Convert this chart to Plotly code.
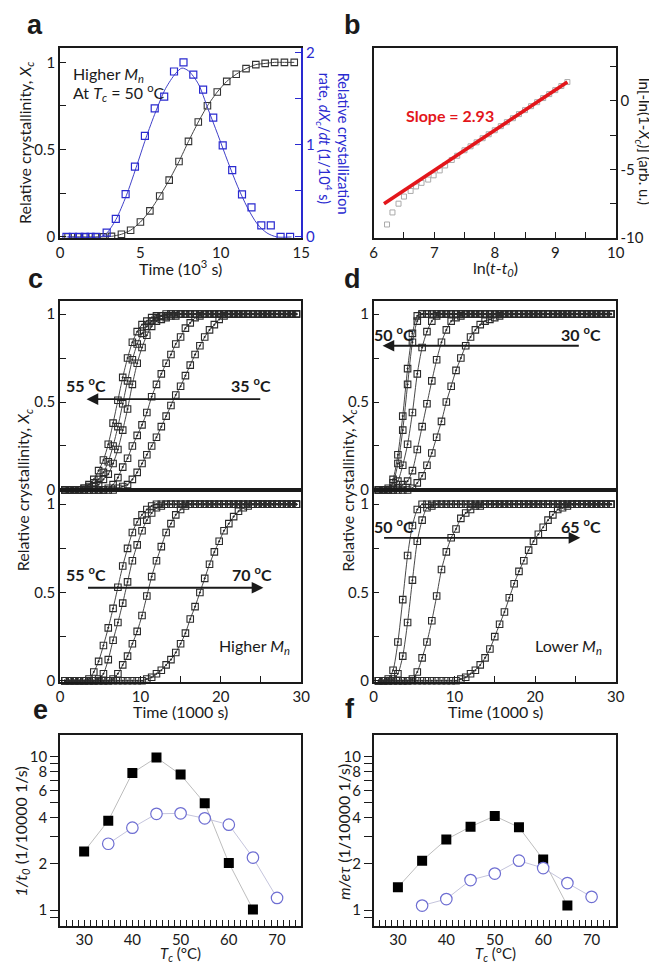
import plotly.graph_objects as go

W, H = 657, 964
FONT = "Lato, 'Open Sans', sans-serif"
INK = "#1a1a1a"
BLUE = "#2a2ad0"

# ---------------- panel a : Xc and dXc/dt vs time (10^3 s) ----------------
A_T_XC = [0.5, 1.1, 1.6, 2.2, 2.7, 3.2, 3.82, 4.39, 5.0, 5.59, 6.2, 6.79, 7.4, 7.99, 8.6,
          9.17, 9.78, 10.37, 10.96, 11.57, 12.18, 12.76, 13.35, 13.96, 14.57]
A_XC = [0, 0, 0, 0, 0, 0.003, 0.015, 0.038, 0.085, 0.149, 0.234, 0.325, 0.432, 0.547, 0.658,
        0.751, 0.83, 0.891, 0.932, 0.964, 0.987, 0.994, 1.0, 1.0, 1.0]
A_T_RATE = [0.4, 0.8, 1.2, 1.55, 1.9, 2.25, 2.9, 3.47, 4.08, 4.66, 5.28, 5.89, 6.48, 7.09, 7.68,
            8.29, 8.9, 9.53, 10.12, 10.71, 11.32, 11.91, 12.52, 13.11, 13.72, 14.31]
A_RATE = [0, 0, 0, 0, 0, 0, 0.046, 0.196, 0.464, 0.761, 1.096, 1.393, 1.521, 1.793, 1.893,
          1.76, 1.596, 1.293, 0.993, 0.725, 0.461, 0.321, 0.125, 0.125, 0, 0]
A_FIT_T = [0.4, 2.5, 2.9, 3.47, 4.12, 4.73, 5.34, 5.95, 6.56, 7.17, 7.58, 7.99, 8.6, 9.2, 9.82,
           10.43, 11.04, 11.65, 12.26, 12.87, 13.48, 14.4]
A_FIT_RATE = [0, 0, 0.04, 0.186, 0.446, 0.75, 1.07, 1.357, 1.607, 1.768, 1.83, 1.8, 1.66, 1.39,
              1.107, 0.82, 0.55, 0.32, 0.143, 0.043, 0, 0]

# ---------------- panel b : Avrami plot ----------------
B_LNT = [6.22, 6.31, 6.41, 6.5, 6.61, 6.7, 6.79, 6.9, 6.99, 7.09, 7.18, 7.29, 7.38, 7.5, 7.6,
         7.7, 7.8, 7.9, 8.0, 8.1, 8.2, 8.3, 8.4, 8.5, 8.6, 8.7, 8.8, 8.9, 9.0, 9.1, 9.2]
B_LNLN = [-9.02, -8.14, -7.5, -6.98, -6.57, -6.24, -5.98, -5.74, -5.43, -5.07, -4.71, -4.31, -4.0,
          -3.6, -3.31, -3.02, -2.72, -2.43, -2.14, -1.84, -1.55, -1.26, -0.96, -0.67, -0.38,
          -0.09, 0.21, 0.5, 0.79, 1.09, 1.38]
B_FIT_X = [6.17, 9.2]
B_FIT_Y = [-7.5, 1.38]
B_SLOPE = "2.93"

# ---------------- panels c, d : isothermal curves (time in 1000 s) ----------------
TIME_GRID = [0.6, 1.2, 1.8, 2.4, 3.0, 3.6, 4.2, 4.8, 5.4, 6.0, 6.6, 7.2, 7.8, 8.4, 9.0,
             9.6, 10.2, 10.8, 11.4, 12.0, 12.6, 13.2, 13.8, 14.4, 15.0, 15.6, 16.2, 16.8, 17.4, 18.0,
             18.6, 19.2, 19.8, 20.4, 21.0, 21.6, 22.2, 22.8, 23.4, 24.0, 24.6, 25.2, 25.8, 26.4, 27.0,
             27.6, 28.2, 28.8, 29.4]

# c top: higher Mn, 55 -> 35 C
C_TOP_55 = [0, 0, 0, 0, 0.01, 0.03, 0.06, 0.11, 0.17, 0.26, 0.38, 0.51, 0.64, 0.75, 0.84,
            0.9, 0.94, 0.96, 0.98, 0.99, 0.99, 1, 1, 1, 1, 1, 1, 1, 1, 1,
            1, 1, 1, 1, 1, 1, 1, 1, 1, 1, 1, 1, 1, 1, 1, 1, 1, 1, 1]
C_TOP_50 = [0, 0, 0, 0, 0.01, 0.02, 0.04, 0.06, 0.1, 0.16, 0.25, 0.36, 0.49, 0.62, 0.74,
            0.83, 0.89, 0.93, 0.96, 0.98, 0.99, 0.99, 1, 1, 1, 1, 1, 1, 1, 1,
            1, 1, 1, 1, 1, 1, 1, 1, 1, 1, 1, 1, 1, 1, 1, 1, 1, 1, 1]
C_TOP_45 = [0, 0, 0, 0, 0, 0.01, 0.02, 0.03, 0.06, 0.09, 0.15, 0.23, 0.34, 0.46, 0.6,
            0.72, 0.81, 0.88, 0.93, 0.96, 0.97, 0.98, 0.99, 0.99, 1, 1, 1, 1, 1, 1,
            1, 1, 1, 1, 1, 1, 1, 1, 1, 1, 1, 1, 1, 1, 1, 1, 1, 1, 1]
C_TOP_40 = [0, 0, 0, 0, 0, 0, 0, 0, 0, 0.01, 0.03, 0.07, 0.13, 0.18, 0.25,
            0.31, 0.37, 0.44, 0.53, 0.6, 0.66, 0.72, 0.77, 0.83, 0.87, 0.92, 0.95, 0.98, 0.99, 1,
            1, 1, 1, 1, 1, 1, 1, 1, 1, 1, 1, 1, 1, 1, 1, 1, 1, 1, 1]
C_TOP_35 = [0, 0, 0, 0, 0, 0, 0, 0, 0, 0, 0, 0.01, 0.02, 0.03, 0.06,
            0.1, 0.15, 0.2, 0.25, 0.3, 0.36, 0.42, 0.48, 0.54, 0.59, 0.65, 0.71, 0.77, 0.82, 0.87,
            0.91, 0.94, 0.97, 0.99, 1, 1, 1, 1, 1, 1, 1, 1, 1, 1, 1, 1, 1, 1, 1]
# c bottom: higher Mn, 55 -> 70 C
C_BOT_55 = [0, 0, 0, 0, 0, 0.01, 0.05, 0.11, 0.2, 0.3, 0.41, 0.53, 0.65, 0.75, 0.84,
            0.9, 0.94, 0.97, 0.99, 1, 1, 1, 1, 1, 1, 1, 1, 1, 1, 1,
            1, 1, 1, 1, 1, 1, 1, 1, 1, 1, 1, 1, 1, 1, 1, 1, 1, 1, 1]
C_BOT_60 = [0, 0, 0, 0, 0, 0, 0, 0.01, 0.04, 0.12, 0.23, 0.33, 0.44, 0.56, 0.68,
            0.77, 0.85, 0.91, 0.95, 0.98, 0.99, 1, 1, 1, 1, 1, 1, 1, 1, 1,
            1, 1, 1, 1, 1, 1, 1, 1, 1, 1, 1, 1, 1, 1, 1, 1, 1, 1, 1]
C_BOT_65 = [0, 0, 0, 0, 0, 0, 0, 0, 0, 0, 0.01, 0.04, 0.09, 0.14, 0.21,
            0.28, 0.37, 0.48, 0.59, 0.68, 0.76, 0.84, 0.89, 0.94, 0.97, 0.99, 1, 1, 1, 1,
            1, 1, 1, 1, 1, 1, 1, 1, 1, 1, 1, 1, 1, 1, 1, 1, 1, 1, 1]
C_BOT_70 = [0, 0, 0, 0, 0, 0, 0, 0, 0, 0, 0, 0, 0, 0, 0,
            0, 0, 0.01, 0.02, 0.04, 0.06, 0.09, 0.12, 0.16, 0.21, 0.27, 0.35, 0.42, 0.5, 0.58,
            0.66, 0.73, 0.79, 0.85, 0.89, 0.93, 0.96, 0.98, 0.99, 1, 1, 1, 1, 1, 1, 1, 1, 1, 1]
# d top: lower Mn, 50 -> 30 C
D_TOP_50 = [0, 0, 0.01, 0.06, 0.2, 0.42, 0.69, 0.89, 0.99, 1, 1, 1, 1, 1, 1,
            1, 1, 1, 1, 1, 1, 1, 1, 1, 1, 1, 1, 1, 1, 1,
            1, 1, 1, 1, 1, 1, 1, 1, 1, 1, 1, 1, 1, 1, 1, 1, 1, 1, 1]
D_TOP_45 = [0, 0, 0, 0.04, 0.15, 0.34, 0.6, 0.84, 0.96, 1, 1, 1, 1, 1, 1,
            1, 1, 1, 1, 1, 1, 1, 1, 1, 1, 1, 1, 1, 1, 1,
            1, 1, 1, 1, 1, 1, 1, 1, 1, 1, 1, 1, 1, 1, 1, 1, 1, 1, 1]
D_TOP_40 = [0, 0, 0, 0.01, 0.05, 0.14, 0.26, 0.44, 0.66, 0.81, 0.9, 0.96, 0.99, 1, 1,
            1, 1, 1, 1, 1, 1, 1, 1, 1, 1, 1, 1, 1, 1, 1,
            1, 1, 1, 1, 1, 1, 1, 1, 1, 1, 1, 1, 1, 1, 1, 1, 1, 1, 1]
D_TOP_35 = [0, 0, 0, 0, 0.01, 0.03, 0.05, 0.11, 0.23, 0.36, 0.49, 0.62, 0.74, 0.84, 0.91,
            0.96, 0.98, 0.99, 1, 1, 1, 1, 1, 1, 1, 1, 1, 1, 1, 1,
            1, 1, 1, 1, 1, 1, 1, 1, 1, 1, 1, 1, 1, 1, 1, 1, 1, 1, 1]
D_TOP_30 = [0, 0, 0, 0, 0, 0, 0, 0.01, 0.04, 0.08, 0.14, 0.21, 0.3, 0.39, 0.5,
            0.59, 0.68, 0.75, 0.82, 0.87, 0.91, 0.94, 0.96, 0.97, 0.98, 0.99, 1, 1, 1, 1,
            1, 1, 1, 1, 1, 1, 1, 1, 1, 1, 1, 1, 1, 1, 1, 1, 1, 1, 1]
# d bottom: lower Mn, 50 -> 65 C
D_BOT_50 = [0, 0, 0.01, 0.06, 0.22, 0.46, 0.71, 0.88, 0.97, 1, 1, 1, 1, 1, 1,
            1, 1, 1, 1, 1, 1, 1, 1, 1, 1, 1, 1, 1, 1, 1,
            1, 1, 1, 1, 1, 1, 1, 1, 1, 1, 1, 1, 1, 1, 1, 1, 1, 1, 1]
D_BOT_55 = [0, 0, 0, 0.01, 0.04, 0.14, 0.33, 0.57, 0.79, 0.91, 0.98, 0.99, 1, 1, 1,
            1, 1, 1, 1, 1, 1, 1, 1, 1, 1, 1, 1, 1, 1, 1,
            1, 1, 1, 1, 1, 1, 1, 1, 1, 1, 1, 1, 1, 1, 1, 1, 1, 1, 1]
D_BOT_60 = [0, 0, 0, 0, 0, 0, 0, 0.01, 0.05, 0.13, 0.22, 0.34, 0.48, 0.63, 0.73,
            0.81, 0.86, 0.92, 0.95, 0.97, 0.99, 0.99, 1, 1, 1, 1, 1, 1, 1, 1,
            1, 1, 1, 1, 1, 1, 1, 1, 1, 1, 1, 1, 1, 1, 1, 1, 1, 1, 1]
D_BOT_65 = [0, 0, 0, 0, 0, 0, 0, 0, 0, 0, 0, 0, 0, 0, 0,
            0, 0, 0.01, 0.02, 0.04, 0.06, 0.09, 0.13, 0.18, 0.25, 0.32, 0.39, 0.47, 0.55, 0.62,
            0.68, 0.74, 0.79, 0.83, 0.87, 0.91, 0.94, 0.97, 0.98, 0.99, 1, 1, 1, 1, 1, 1, 1, 1, 1]

# ---------------- panels e, f : rates vs Tc ----------------
E_TC_HIGH = [30, 35, 40, 45, 50, 55, 60, 65]
E_HIGH = [2.41, 3.83, 7.85, 9.9, 7.66, 4.98, 2.03, 1.01]
E_TC_LOW = [35, 40, 45, 50, 55, 60, 65, 70]
E_LOW = [2.71, 3.45, 4.25, 4.28, 3.97, 3.61, 2.2, 1.2]
F_TC_HIGH = [30, 35, 40, 45, 50, 55, 60, 65]
F_HIGH = [1.41, 2.1, 2.89, 3.5, 4.11, 3.47, 2.14, 1.07]
F_TC_LOW = [35, 40, 45, 50, 55, 60, 65, 70]
F_LOW = [1.07, 1.18, 1.57, 1.73, 2.1, 1.88, 1.5, 1.22]

LOG_TICKS = [0.792, 0.9, 1, 2, 3, 4, 5, 6, 7, 8, 9, 10]
E_LOG_TEXT = ["0", "", "1", "2", "", "4", "", "6", "", "8", "", "10"]
F_LOG_TEXT = ["", "", "1", "2", "", "4", "", "6", "", "8", "", "10"]
TC_LABELS = {30: "30", 40: "40", 50: "50", 60: "60", 70: "70"}

# ------------------------------------------------------------------
fig = go.Figure()

# panel a
fig.add_trace(go.Scatter(x=A_T_XC, y=A_XC, mode="lines+markers", xaxis="x", yaxis="y",
                         line=dict(color="#444", width=1, shape="spline", smoothing=0.6),
                         marker=dict(symbol="square-open", size=6.5, color="#333", line=dict(width=1.1)),
                         showlegend=False))
fig.add_trace(go.Scatter(x=A_FIT_T, y=A_FIT_RATE, mode="lines", xaxis="x", yaxis="y2",
                         line=dict(color="#4040c8", width=1, shape="spline", smoothing=0.8),
                         showlegend=False))
fig.add_trace(go.Scatter(x=A_T_RATE, y=A_RATE, mode="markers", xaxis="x", yaxis="y2",
                         marker=dict(symbol="square-open", size=7, color=BLUE, line=dict(width=1.2)),
                         showlegend=False))

# panel b
fig.add_trace(go.Scatter(x=B_LNT, y=B_LNLN, mode="markers", xaxis="x2", yaxis="y3",
                         marker=dict(symbol="square-open", size=5, color="#aaaaaa", line=dict(width=1)),
                         showlegend=False))
fig.add_trace(go.Scatter(x=B_FIT_X, y=B_FIT_Y, mode="lines", xaxis="x2", yaxis="y3",
                         line=dict(color="#e3161b", width=3.6), showlegend=False))


def curve(yvals, xa, ya):
    fig.add_trace(go.Scatter(x=TIME_GRID, y=yvals, mode="lines+markers", xaxis=xa, yaxis=ya,
                             line=dict(color="#333", width=0.9, shape="spline", smoothing=0.7),
                             marker=dict(symbol="square-open-dot", size=6.5, color="#2a2a2a",
                                         line=dict(width=1.1)),
                             cliponaxis=False, showlegend=False))


for ys in [C_TOP_55, C_TOP_50, C_TOP_45, C_TOP_40, C_TOP_35]:
    curve(ys, "x3", "y4")
for ys in [C_BOT_55, C_BOT_60, C_BOT_65, C_BOT_70]:
    curve(ys, "x4", "y5")
for ys in [D_TOP_50, D_TOP_45, D_TOP_40, D_TOP_35, D_TOP_30]:
    curve(ys, "x5", "y6")
for ys in [D_BOT_50, D_BOT_55, D_BOT_60, D_BOT_65]:
    curve(ys, "x6", "y7")


def rate_panel(tch, vh, tcl, vl, xa, ya):
    fig.add_trace(go.Scatter(x=tch, y=vh, mode="lines+markers", xaxis=xa, yaxis=ya,
                             line=dict(color="#bdbdbd", width=1),
                             marker=dict(symbol="square", size=10, color="#000"),
                             showlegend=False))
    fig.add_trace(go.Scatter(x=tcl, y=vl, mode="lines+markers", xaxis=xa, yaxis=ya,
                             line=dict(color="#c4c4dc", width=1),
                             marker=dict(symbol="circle", size=11.5, color="white",
                                         line=dict(color="#6e6ed2", width=1.2)),
                             showlegend=False))


rate_panel(E_TC_HIGH, E_HIGH, E_TC_LOW, E_LOW, "x7", "y8")
rate_panel(F_TC_HIGH, F_HIGH, F_TC_LOW, F_LOW, "x8", "y9")

# ------------------------------------------------------------------
def dom_x(a, b):
    return [a / W, b / W]


def dom_y(top, bot):
    return [1 - bot / H, 1 - top / H]


XA = dom_x(49, 295)
XB = dom_x(369, 616)
YAB = dom_y(35, 228)
YCT = dom_y(292, 484)
YCB = dom_y(484, 678)
YE = dom_y(732, 925)

TICK_SIZE = 15


def ax(**kw):
    d = dict(showline=True, linecolor=INK, linewidth=1.5, mirror=True, zeroline=False, showgrid=False,
             tickfont=dict(size=TICK_SIZE, color=INK, family=FONT), ticks="inside", ticklen=6,
             tickcolor=INK, tickwidth=1.2)
    d.update(kw)
    return d


TIME_TICKS = [0, 5, 10, 15, 20, 25, 30]
TIME_TEXT = ["0", "", "10", "", "20", "", "30"]
X_TICKS = [0, 0.25, 0.5, 0.75, 1]
X_TEXT = ["0", "", "0.5", "", "1"]
TC_TICKS = [25 + 1.25 * i for i in range(41)]
TC_TEXT = [TC_LABELS.get(int(v), "") if float(v).is_integer() else "" for v in TC_TICKS]

layout_axes = dict(
    xaxis=ax(domain=XA, anchor="y", range=[0, 15], tickvals=[0, 5, 10, 15], ticks=""),
    yaxis=ax(domain=YAB, anchor="x", range=[-0.006, 1.085], tickvals=X_TICKS, ticktext=X_TEXT, mirror=False),
    yaxis2=ax(overlaying="y", anchor="x", side="right", range=[-0.011, 2.053],
              tickvals=[0, 0.5, 1, 1.5, 2], ticktext=["0", "", "1", "", "2"], mirror=False,
              linecolor=BLUE, tickcolor=BLUE, tickfont=dict(size=TICK_SIZE, color=BLUE, family=FONT)),
    xaxis2=ax(domain=XB, anchor="y3", range=[6, 10],
              tickvals=[6, 6.5, 7, 7.5, 8, 8.5, 9, 9.5, 10],
              ticktext=["6", "", "7", "", "8", "", "9", "", "10"]),
    yaxis3=ax(domain=YAB, anchor="x2", side="right", range=[-10, 3.9],
              tickvals=[-10, -7.5, -5, -2.5, 0, 2.5], ticktext=["-10", "", "-5", "", "0", ""]),
    xaxis3=ax(domain=XA, anchor="y4", range=[0, 30], showticklabels=False, ticks=""),
    yaxis4=ax(domain=YCT, anchor="x3", range=[-0.003, 1.074], tickvals=X_TICKS, ticktext=X_TEXT),
    xaxis4=ax(domain=XA, anchor="y5", range=[0, 30], tickvals=TIME_TICKS, ticktext=TIME_TEXT),
    yaxis5=ax(domain=YCB, anchor="x4", range=[-0.006, 1.078], tickvals=X_TICKS, ticktext=X_TEXT),
    xaxis5=ax(domain=XB, anchor="y6", range=[0, 30], showticklabels=False, ticks=""),
    yaxis6=ax(domain=YCT, anchor="x5", range=[-0.003, 1.074], tickvals=X_TICKS, ticktext=X_TEXT),
    xaxis6=ax(domain=XB, anchor="y7", range=[0, 30], tickvals=TIME_TICKS, ticktext=TIME_TEXT),
    yaxis7=ax(domain=YCB, anchor="x6", range=[-0.006, 1.078], tickvals=X_TICKS, ticktext=X_TEXT),
    xaxis7=ax(domain=XA, anchor="y8", range=[25, 75], tickvals=TC_TICKS, ticktext=TC_TEXT, ticklen=6),
    yaxis8=ax(domain=YE, anchor="x7", type="log", range=[-0.101, 1.142], tickvals=LOG_TICKS,
              ticktext=E_LOG_TEXT, ticks="outside", ticklen=8),
    xaxis8=ax(domain=XB, anchor="y9", range=[25, 75], tickvals=TC_TICKS, ticktext=TC_TEXT, ticklen=6),
    yaxis9=ax(domain=YE, anchor="x8", type="log", range=[-0.101, 1.142], tickvals=LOG_TICKS,
              ticktext=F_LOG_TEXT, ticks="outside", ticklen=8),
)


def note(text, x, y, size=16, angle=0, color=INK, xanchor="center", align="center", family=FONT):
    return dict(text=text, x=x / W, y=1 - y / H, xref="paper", yref="paper", showarrow=False,
                font=dict(size=size, color=color, family=family), textangle=angle,
                xanchor=xanchor, yanchor="middle", align=align)


def arrow(xr, yr, tail, head, yv):
    return dict(text="", x=head, y=yv, ax=tail, ay=yv, xref=xr, yref=yr, axref=xr, ayref=yr,
                showarrow=True, arrowhead=2, arrowsize=1.3, arrowwidth=1.8, arrowcolor=INK)


XC_TITLE = "Relative crystallinity, <i>X<sub>c</sub></i>"
DEG = "<sup>o</sup>C"
LETTER = "Liberation Sans, Arial, sans-serif"

annotations = [
    note("<b>a</b>", 23, 12, size=27, family=LETTER),
    note("<b>b</b>", 347, 12, size=27, family=LETTER),
    note("<b>c</b>", 24, 270, size=27, family=LETTER),
    note("<b>d</b>", 347, 270, size=27, family=LETTER),
    note("<b>e</b>", 29, 707, size=27, family=LETTER),
    note("<b>f</b>", 345, 706, size=27, family=LETTER),
    # panel a
    note("Higher <i>M<sub>n</sub></i>", 60, 62, xanchor="left"),
    note("At <i>T<sub>c</sub></i> = 50 " + DEG, 60, 81, xanchor="left"),
    note("Time (10<sup>3</sup> s)", 172, 258),
    note(XC_TITLE, 13, 132, angle=-90),
    note("Relative crystallization<br>rate, <i>dX<sub>c</sub></i>/<i>dt</i> (1/10<sup>4</sup> s)",
         327, 132, size=14.5, angle=90, color=BLUE, align="left"),
    # panel b
    note("ln(<i>t</i>-<i>t<sub>0</sub></i>)", 493, 259),
    note("ln[-ln(1-<i>X<sub>c</sub></i>)] (arb. u.)", 644, 130, size=15, angle=90),
    note("<b>Slope = " + B_SLOPE + "</b>", 447, 104, size=16, color="#e3161b"),
    # panel c
    note(XC_TITLE, 12, 484, angle=-90),
    note("<b>55 " + DEG + "</b>", 75, 377),
    note("<b>35 " + DEG + "</b>", 244, 377),
    note("<b>55 " + DEG + "</b>", 75, 568),
    note("<b>70 " + DEG + "</b>", 245, 568),
    note("Higher <i>M<sub>n</sub></i>", 286, 642, xanchor="right"),
    note("Time (1000 s)", 172, 708),
    # panel d
    note(XC_TITLE, 343, 484, angle=-90),
    note("<b>50 " + DEG + "</b>", 390, 325),
    note("<b>30 " + DEG + "</b>", 580, 325),
    note("<b>50 " + DEG + "</b>", 390, 519),
    note("<b>65 " + DEG + "</b>", 580, 519),
    note("Lower <i>M<sub>n</sub></i>", 604, 642, xanchor="right"),
    note("Time (1000 s)", 493, 708),
    # panels e, f
    note("<i>T<sub>c</sub></i> (°C)", 172, 954, size=15),
    note("<i>T<sub>c</sub></i> (°C)", 493, 954, size=15),
    note("<i>1/t<sub>0</sub></i> (1/10000 1/s)", 10, 830, angle=-90),
    note("<i>m/eτ</i> (1/10000 1/s)", 338, 830, angle=-90),
    # arrows
    arrow("x3", "y4", 25.1, 3.3, 0.516),
    arrow("x4", "y5", 3.3, 25.3, 0.527),
    arrow("x5", "y6", 25.6, 1.1, 0.82),
    arrow("x6", "y7", 1.1, 25.6, 0.81),
]

fig.update_layout(
    width=W, height=H, margin=dict(l=0, r=0, t=0, b=0),
    paper_bgcolor="white", plot_bgcolor="white",
    font=dict(family=FONT, size=16, color=INK),
    annotations=annotations, showlegend=False,
    **layout_axes,
)

fig.write_html("out.html")
